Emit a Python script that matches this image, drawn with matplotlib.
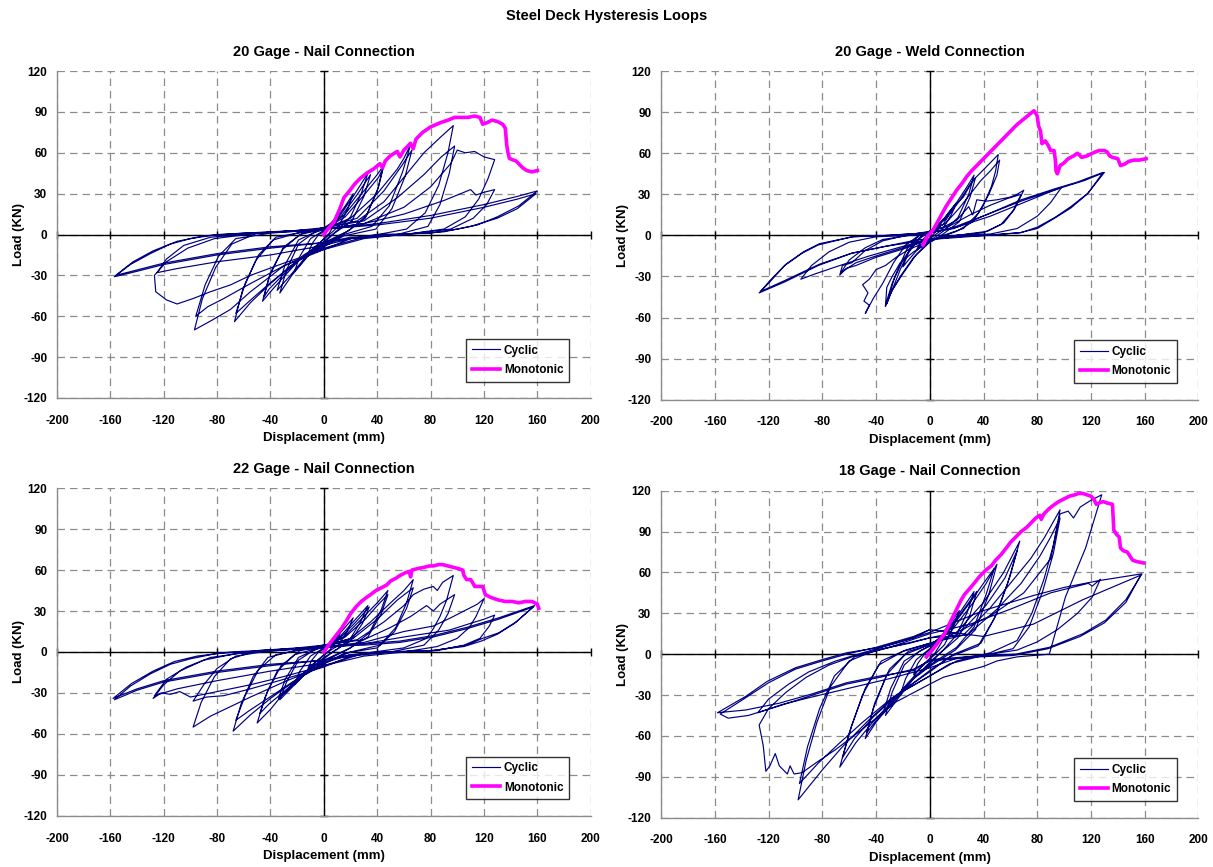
#!/usr/bin/env python3
"""
Steel deck hysteresis loops - four connection types, cyclic vs monotonic
"""

import numpy as np
import matplotlib.pyplot as plt

plt.rcParams['font.family'] = ['Liberation Sans', 'DejaVu Sans']
plt.rcParams['font.weight'] = 'bold'
plt.rcParams['axes.unicode_minus'] = False

# ---- data: (displacement mm, load kN) ----
g20n_cyclic = [
    (0, 0), (5, 8), (12, 16), (9, 9), (4, 1), (0, -3), (-6, -9), (-12, -15), (-9, -7), (-4, 0), (0, 2),
    (8, 10), (16, 21), (22, 30), (18, 19), (11, 6), (3, -1), (-8, -10), (-16, -20), (-22, -27), (-18, -16), (-10, -3), (0, 3),
    (10, 11), (22, 28), (33, 45), (28, 30), (20, 13), (10, 3), (0, -5), (-12, -16), (-24, -30), (-33, -43), (-28, -26), (-19, -7), (-8, 1), (0, 4),
    (12, 12), (24, 28), (35, 44), (30, 28), (21, 10), (8, 1), (0, -6), (-14, -17), (-26, -31), (-35, -41), (-29, -22), (-19, -4), (-6, 2), (0, 5),
    (15, 14), (30, 32), (40, 44), (45, 51), (41, 35), (32, 14), (19, 3), (0, -6), (-15, -15), (-30, -31), (-40, -42), (-46, -49), (-41, -31), (-31, -11), (-18, 0), (0, 4),
    (16, 13), (31, 30), (41, 42), (44, 48), (40, 32), (31, 12), (17, 2), (0, -7), (-16, -16), (-31, -30), (-41, -40), (-45, -46), (-40, -28), (-30, -9), (-16, 1), (0, 4),
    (20, 12), (40, 30), (55, 48), (60, 56), (65, 66), (59, 46), (49, 21), (36, 6), (15, 0), (0, -8), (-20, -19), (-40, -36), (-55, -50), (-67, -64), (-61, -41), (-51, -19), (-38, -4), (-20, 1), (0, 5),
    (25, 12), (45, 32), (58, 50), (66, 62), (61, 43), (51, 19), (39, 4), (15, -1), (0, -9), (-22, -21), (-42, -37), (-56, -49), (-66, -58), (-59, -36), (-49, -15), (-36, -2), (-15, 2), (0, 5),
    (25, 10), (45, 24), (60, 42), (75, 60), (88, 72), (97, 80), (93, 60), (86, 36), (76, 16), (62, 4), (30, -2), (0, -10), (-30, -23), (-55, -42), (-70, -55), (-84, -63), (-97, -70), (-91, -47), (-81, -24), (-69, -7), (-50, 1), (-20, 3), (0, 5),
    (30, 10), (55, 27), (75, 44), (88, 57), (98, 65), (94, 45), (87, 22), (78, 6), (55, 0), (20, -3), (0, -11), (-30, -23), (-55, -36), (-75, -47), (-87, -53), (-96, -60), (-89, -37), (-79, -16), (-66, -3), (-40, 1), (0, 4),
    (30, 8), (60, 20), (80, 35), (95, 52), (100, 62), (106, 60), (113, 61), (120, 57), (128, 55), (123, 41), (116, 26), (106, 13), (90, 4), (60, 0), (30, -3), (0, -11),
    (-30, -21), (-55, -30), (-70, -37), (-85, -42), (-98, -47), (-110, -51), (-118, -48), (-126, -42), (-127, -30), (-118, -20), (-102, -10), (-82, -3), (-50, 1), (0, 4),
    (30, 8), (60, 15), (90, 25), (110, 33), (114, 29), (120, 31), (128, 33), (122, 22), (112, 12), (95, 4), (60, 0), (20, -3), (0, -8), (-40, -15), (-80, -20), (-110, -25), (-125, -28), (-118, -18), (-105, -8), (-85, -2), (-50, 1), (0, 4),
    (40, 8), (80, 14), (120, 22), (145, 28), (160, 32), (146, 21), (130, 13), (115, 7), (100, 4), (80, 1), (40, 0), (0, -6), (-40, -10), (-80, -15), (-120, -22), (-140, -27), (-157, -31),
    (-145, -22), (-130, -14), (-115, -7), (-100, -3), (-80, 0), (-40, 2), (0, 4),
    (40, 7), (80, 12), (120, 20), (145, 26), (159, 30), (145, 19), (130, 12), (110, 6), (90, 2), (60, 0), (20, -2), (0, -6), (-40, -9), (-80, -14), (-120, -21), (-140, -26), (-156, -30),
    (-143, -20), (-128, -12), (-110, -5), (-90, -1), (-60, 1), (0, 3),
]
g20n_mono = [
    (0, 0), (3, 4), (7.5, 9), (12, 19), (15, 27), (20, 33), (23, 37), (27, 41), (32, 45), (37, 48), (42, 52), (44, 49), (46, 54), (50, 58),
    (55, 61), (57, 57), (60, 62), (65, 67), (67, 63), (69, 70), (74, 75), (80, 79), (87, 82), (93, 84), (98, 86), (104, 86), (108, 86),
    (113, 87), (117, 86), (119, 81), (122, 82), (126, 84), (130, 83), (134, 81), (136, 78), (137, 66), (138, 60), (139, 56), (141, 55),
    (144, 54), (146, 52), (149, 49), (152, 47), (156, 46), (160, 47),
]

g20w_cyclic = [
    (0, 0), (5, 6), (10, 12), (7, 6), (2, 0), (0, -2), (-5, -6), (-10, -11), (-7, -5), (-2, 0), (0, 2),
    (8, 9), (15, 18), (20, 24), (16, 15), (9, 4), (2, -1), (-8, -9), (-15, -17), (-20, -23), (-16, -13), (-8, -2), (0, 3),
    (10, 11), (20, 24), (28, 36), (33, 44), (29, 30), (21, 13), (10, 3), (0, -4), (-10, -14), (-20, -28), (-28, -40), (-33, -51), (-28, -35), (-20, -18), (-10, -4), (0, 3),
    (12, 12), (22, 25), (30, 37), (34, 42), (30, 28), (22, 10), (10, 1), (0, -5), (-12, -16), (-22, -30), (-29, -42), (-32, -50), (-26, -30), (-17, -10), (-8, 0), (0, 3),
    (10, 8), (18, 21), (25, 28), (32, 40), (38, 46), (42, 50), (47, 55), (51, 59), (49, 47), (46, 36), (40, 22), (32, 10), (20, 3), (0, -4), (-15, -10), (-25, -16), (-33, -22),
    (-40, -25), (-45, -32), (-50, -36), (-46, -42), (-49, -48), (-45, -51), (-48, -57), (-42, -46), (-35, -35), (-27, -20), (-18, -7), (-8, 0), (0, 3),
    (12, 9), (22, 20), (30, 30), (38, 40), (45, 47), (52, 55), (50, 44), (44, 30), (36, 16), (25, 5), (10, 0), (0, -5), (-12, -12), (-22, -20), (-28, -30), (-32, -38), (-33, -52),
    (-28, -40), (-22, -25), (-15, -10), (-6, 0), (0, 3),
    (10, 6), (20, 11), (29, 21), (32, 15), (35, 26), (42, 25), (50, 26), (60, 28), (65, 30), (70, 33), (63, 19), (55, 9), (43, 3), (20, 0), (0, -3), (-20, -10), (-40, -16),
    (-55, -22), (-62, -24), (-67, -29), (-65, -22), (-58, -20), (-48, -11), (-35, -4), (-18, 0), (0, 3),
    (15, 7), (30, 15), (45, 22), (58, 27), (68, 30), (62, 18), (53, 8), (40, 2), (20, 0), (0, -3), (-20, -9), (-40, -15), (-55, -20), (-66, -27), (-60, -18), (-48, -9), (-35, -3), (-15, 0), (0, 2),
    (20, 6), (45, 14), (70, 24), (85, 30), (98, 35), (90, 24), (80, 14), (65, 5), (45, 1), (20, 0), (0, -3), (-20, -8), (-45, -15), (-70, -23), (-85, -28), (-96, -32), (-88, -22),
    (-75, -12), (-60, -5), (-40, -1), (-15, 0), (0, 2),
    (18, 5), (42, 15), (68, 26), (93, 34), (110, 39), (118, 42), (129, 46), (118, 31), (105, 21), (93, 13), (80, 6), (68, 2), (43, 0), (20, -1), (0, -3), (-8, -3), (-33, -8),
    (-58, -13), (-83, -22), (-108, -34), (-127, -42), (-120, -35), (-108, -22), (-95, -13), (-83, -7), (-58, -1), (-33, 0), (0, 2),
    (18, 6), (42, 15), (68, 25), (92, 33), (115, 40), (130, 46), (117, 30), (105, 20), (92, 12), (80, 5), (67, 2), (42, 0), (0, -3), (-33, -8), (-58, -13), (-82, -21), (-108, -33),
    (-126, -41), (-119, -33), (-107, -21), (-94, -12), (-82, -6), (-57, -1), (-30, 0), (0, 2),
]
g20w_mono = [
    (-5, -7), (-2, -1), (2.5, 4), (7, 12), (12, 21), (16, 27), (20, 33), (24, 38), (27.5, 43), (31, 47), (35, 51), (40, 56), (45, 61), (50, 66),
    (55, 71), (60, 76), (65, 81), (70, 85), (72.5, 87), (75, 89), (77.5, 91), (79, 89), (80, 87), (81, 80), (82.5, 76), (83.5, 67), (86, 69),
    (88, 66), (90, 62), (92.5, 62), (93.5, 55), (94, 47), (95, 45), (97, 51), (100, 53), (103, 56), (107, 58), (110, 60), (113, 57), (117, 58),
    (121, 60), (126, 62), (130, 62), (132, 61), (134, 58), (136, 57), (140, 56), (142, 51), (145, 52), (148, 54), (152, 55), (156, 55), (161, 56),
]

g22n_cyclic = [
    (0, 0), (5, 6), (12, 13), (9, 7), (4, 1), (0, -2), (-6, -7), (-12, -12), (-9, -6), (-4, 0), (0, 2),
    (8, 9), (15, 17), (22, 25), (18, 16), (11, 5), (3, 0), (-8, -9), (-15, -17), (-22, -24), (-18, -14), (-10, -3), (0, 3),
    (10, 9), (22, 22), (33, 34), (28, 23), (20, 10), (10, 2), (0, -4), (-12, -14), (-24, -26), (-33, -35), (-28, -22), (-19, -6), (-8, 1), (0, 4),
    (12, 10), (24, 22), (34, 33), (29, 21), (20, 8), (8, 1), (0, -5), (-14, -15), (-26, -27), (-34, -34), (-29, -20), (-19, -4), (-6, 2), (0, 4),
    (15, 11), (30, 26), (40, 36), (48, 45), (43, 31), (34, 14), (20, 3), (0, -6), (-15, -15), (-30, -30), (-40, -42), (-50, -52), (-44, -33), (-35, -14), (-22, -2), (0, 4),
    (16, 11), (31, 24), (41, 35), (48, 42), (43, 28), (33, 11), (18, 2), (0, -7), (-16, -17), (-31, -30), (-41, -38), (-48, -45), (-42, -28), (-32, -10), (-18, 1), (0, 4),
    (20, 10), (35, 22), (50, 36), (60, 45), (67, 53), (62, 36), (54, 18), (42, 5), (20, 0), (0, -8), (-20, -20), (-40, -34), (-55, -46), (-68, -58), (-62, -38), (-53, -18), (-42, -4), (-22, 1), (0, 5),
    (22, 10), (40, 24), (55, 38), (67, 47), (62, 32), (53, 15), (40, 3), (15, -1), (0, -9), (-22, -21), (-42, -34), (-56, -43), (-66, -50), (-59, -32), (-49, -13), (-36, -2), (-15, 2), (0, 5),
    (25, 9), (45, 22), (60, 34), (67, 42), (75, 46), (82, 48), (85, 45), (89, 51), (97, 56), (92, 38), (87, 26), (82, 17), (77, 10), (60, 3), (30, -1), (0, -10), (-30, -22),
    (-55, -33), (-70, -40), (-85, -47), (-98, -55), (-92, -37), (-82, -18), (-70, -5), (-50, 1), (-20, 3), (0, 5),
    (30, 9), (50, 18), (65, 26), (77, 34), (82, 30), (87, 35), (98, 42), (93, 28), (86, 16), (75, 5), (50, 0), (20, -3), (0, -11), (-30, -20), (-55, -27), (-75, -32), (-88, -33),
    (-98, -36), (-90, -24), (-80, -12), (-66, -3), (-40, 1), (0, 4),
    (30, 7), (60, 15), (82, 19), (95, 25), (107, 31), (115, 35), (120, 39), (114, 26), (109, 18), (100, 10), (85, 4), (60, 0), (30, -3), (0, -10), (-30, -18), (-55, -24),
    (-75, -28), (-90, -31), (-100, -33), (-108, -29), (-115, -31), (-122, -30), (-128, -34), (-120, -24), (-108, -14), (-90, -6), (-65, -1), (-35, 1), (0, 4),
    (30, 6), (60, 11), (94, 16), (110, 21), (120, 24), (128, 27), (124, 19), (117, 10), (105, 5), (85, 1), (50, 0), (20, -2), (0, -8), (-40, -14), (-80, -21), (-110, -27),
    (-127, -32), (-118, -20), (-103, -11), (-85, -4), (-55, 0), (-20, 2), (0, 3),
    (30, 6), (57, 8), (82, 12), (107, 18), (131, 25), (158, 34), (144, 22), (131, 14), (119, 10), (107, 5), (82, 1), (50, 0), (20, -2), (0, -6), (-40, -10), (-80, -15),
    (-120, -22), (-140, -28), (-157, -35), (-145, -25), (-130, -16), (-115, -9), (-100, -5), (-80, -1), (-60, 0), (-30, 2), (0, 4),
    (30, 5), (57, 7), (82, 11), (107, 17), (131, 24), (157, 33), (143, 21), (130, 13), (118, 8), (105, 4), (80, 1), (40, 0), (0, -6), (-40, -9), (-80, -14), (-120, -21),
    (-140, -27), (-158, -34), (-144, -23), (-128, -14), (-112, -7), (-95, -3), (-70, 0), (-30, 2), (0, 4),
]
g22n_mono = [
    (0, 0), (5, 7), (9, 12), (13, 17), (17, 23), (20, 28), (24, 33), (28, 37), (32, 40), (35, 42), (39, 45), (43, 47), (47, 49), (50, 52),
    (54, 54), (57, 56), (61, 58), (64, 59), (65, 55), (66, 60), (70, 61), (75, 62), (79, 63), (82, 63), (86, 64), (89, 64), (93, 63),
    (97, 62), (101, 61), (104, 60), (105, 56), (107, 53), (110, 53), (112, 50), (113, 48), (116, 48), (119, 48), (121, 42), (123, 41),
    (125, 40), (128, 39), (131, 38), (136, 37), (141, 37), (146, 36), (151, 37), (156, 37), (158, 36), (160, 35), (161, 32),
]

g18n_cyclic = [
    (0, 0), (5, 8), (12, 16), (9, 9), (4, 1), (0, -3), (-6, -9), (-12, -15), (-9, -7), (-4, 0), (0, 3),
    (8, 12), (16, 24), (22, 32), (18, 21), (11, 7), (3, -1), (-8, -11), (-16, -22), (-22, -30), (-18, -18), (-10, -4), (0, 4),
    (10, 14), (22, 30), (33, 46), (28, 31), (20, 14), (10, 3), (0, -6), (-12, -18), (-24, -33), (-33, -45), (-28, -28), (-19, -8), (-8, 2), (0, 6),
    (12, 15), (24, 31), (35, 46), (30, 29), (21, 12), (8, 1), (0, -7), (-14, -19), (-26, -34), (-35, -44), (-29, -25), (-19, -5), (-6, 3), (0, 6),
    (15, 18), (30, 38), (40, 52), (48, 63), (42, 44), (33, 20), (20, 5), (0, -8), (-15, -20), (-30, -38), (-40, -50), (-48, -62), (-42, -40), (-32, -15), (-18, 0), (0, 7),
    (16, 17), (31, 36), (42, 52), (50, 66), (44, 44), (34, 18), (19, 3), (0, -9), (-16, -21), (-31, -38), (-41, -50), (-47, -58), (-41, -36), (-30, -11), (-16, 2), (0, 7),
    (20, 16), (40, 38), (55, 60), (67, 83), (60, 58), (50, 30), (38, 8), (18, 0), (0, -12), (-20, -27), (-40, -47), (-55, -65), (-67, -83), (-60, -58), (-50, -30), (-38, -8), (-20, 2), (0, 8),
    (22, 15), (42, 36), (56, 56), (65, 76), (58, 52), (48, 26), (36, 6), (15, -2), (0, -13), (-22, -28), (-42, -46), (-56, -62), (-65, -76), (-58, -52), (-48, -25), (-36, -5), (-18, 3), (0, 8),
    (25, 14), (45, 34), (60, 52), (75, 70), (85, 85), (97, 106), (92, 80), (85, 55), (76, 30), (65, 10), (45, 1), (20, -5), (0, -16), (-25, -30), (-45, -48), (-65, -68),
    (-80, -85), (-98, -107), (-92, -78), (-84, -50), (-74, -24), (-60, -5), (-40, 3), (-15, 8), (0, 12),
    (28, 14), (50, 33), (68, 52), (82, 72), (90, 86), (97, 100), (92, 74), (84, 46), (74, 20), (62, 4), (40, -1), (15, -7), (0, -16), (-28, -32), (-50, -50), (-68, -66),
    (-83, -80), (-97, -95), (-91, -68), (-82, -40), (-71, -16), (-56, -2), (-30, 5), (0, 12),
    (20, 16), (45, 28), (70, 45), (90, 70), (97, 103), (103, 105), (107, 100), (112, 108), (120, 113), (128, 117), (116, 78), (101, 42), (89, 0), (65, -2), (50, -5),
    (40, -9), (25, -13), (10, -17), (0, -22), (-25, -35), (-50, -55), (-70, -70), (-85, -80), (-95, -87), (-101, -88), (-104, -82), (-106, -88), (-112, -82), (-115, -73),
    (-119, -82), (-122, -86), (-124, -67), (-127, -52), (-120, -40), (-107, -28), (-92, -17), (-75, -8), (-55, -1), (-30, 5), (0, 15),
    (30, 22), (60, 33), (90, 45), (110, 50), (118, 52), (121, 50), (127, 55), (121, 42), (110, 30), (95, 18), (80, 9), (65, 3), (45, 0), (20, -3), (0, -10), (-30, -18),
    (-60, -25), (-90, -32), (-110, -37), (-128, -43), (-120, -33), (-105, -22), (-90, -13), (-70, -5), (-50, 1), (-25, 8), (0, 16),
    (40, 32), (77, 43), (100, 49), (126, 54), (158, 59), (146, 40), (131, 25), (114, 15), (89, 5), (64, 0), (40, -1), (0, -4), (-12, -12), (-37, -16), (-62, -21),
    (-87, -29), (-112, -36), (-137, -41), (-158, -43), (-137, -31), (-121, -20), (-100, -10), (-80, -4), (-62, 1), (-37, 5), (-12, 12), (0, 18),
    (40, 13), (77, 22), (114, 40), (157, 58), (146, 38), (130, 23), (112, 13), (88, 4), (62, -1), (36, -2), (0, -5), (-12, -11), (-37, -17), (-62, -22), (-87, -30),
    (-112, -38), (-135, -45), (-150, -47), (-156, -44), (-137, -32), (-120, -21), (-100, -11), (-80, -5), (-62, 0), (-40, 5), (-12, 13), (0, 18),
]
g18n_mono = [
    (-2.5, -2), (1, 2), (5, 7), (8, 11), (11, 15), (14, 21), (17, 27), (20, 33), (23.5, 40), (26, 44), (29.6, 48), (33, 52), (37, 57), (40, 60),
    (42, 62), (46, 65), (49, 69), (53, 73), (57, 78), (60, 82), (64, 86), (68, 90), (72, 93), (76, 97), (79, 100), (82, 102), (83, 99),
    (85, 103), (89, 107), (93, 110), (96, 112), (100, 114), (104, 116), (108, 117), (111, 118), (114, 118), (117, 117), (120, 116),
    (122, 114), (124, 110), (126, 111), (129, 112), (132, 111), (136, 110), (137, 91), (139, 88), (141, 86), (142, 78), (144, 76),
    (147, 75), (149, 72), (151, 69), (154, 68), (159, 67),
]

titles = ['20 Gage - Nail Connection', '20 Gage - Weld Connection',
          '22 Gage - Nail Connection', '18 Gage - Nail Connection']
x_ticks = [-200, -160, -120, -80, -40, 0, 40, 80, 120, 160, 200]
y_ticks = [-120, -90, -60, -30, 0, 30, 60, 90, 120]

fig = plt.figure(figsize=(12.13, 8.67), dpi=100)
fig.text(0.5, 0.981, 'Steel Deck Hysteresis Loops', ha='center', va='center',
         fontsize=10.5, fontweight='bold')

# axes rectangles in figure fractions (left, bottom, width, height)
boxes = [[0.047, 0.541, 0.440, 0.377], [0.545, 0.539, 0.443, 0.379],
         [0.047, 0.059, 0.440, 0.378], [0.545, 0.057, 0.443, 0.377]]
cyclic_sets = [g20n_cyclic, g20w_cyclic, g22n_cyclic, g18n_cyclic]
mono_sets = [g20n_mono, g20w_mono, g22n_mono, g18n_mono]

for title, cyc, mono, box in zip(titles, cyclic_sets, mono_sets, boxes):
    ax = fig.add_axes(box)
    cx, cy = np.array(cyc, dtype=float).T
    mx, my = np.array(mono, dtype=float).T

    ax.grid(True, color='#8c8c8c', linestyle=(0, (6, 4)), linewidth=0.9)
    ax.set_axisbelow(True)
    ax.axhline(0, color='black', lw=1.0, zorder=1.5)
    ax.axvline(0, color='black', lw=1.0, zorder=1.5)
    # small tick marks along the zero lines (Excel style)
    ax.plot(np.zeros(len(y_ticks)), y_ticks, ls='none', marker='_', ms=6,
            mew=1.0, color='black', zorder=1.5, clip_on=False)
    ax.plot(x_ticks, np.zeros(len(x_ticks)), ls='none', marker='|', ms=6,
            mew=1.0, color='black', zorder=1.5, clip_on=False)

    ax.plot(cx, cy, color='#000080', lw=0.85, label='Cyclic', zorder=3)
    ax.plot(mx, my, color='#ff00ff', lw=2.6, label='Monotonic', zorder=4,
            solid_joinstyle='round')

    ax.set_xlim(-200, 200)
    ax.set_ylim(-120, 120)
    ax.set_xticks(x_ticks)
    ax.set_yticks(y_ticks)
    ax.tick_params(length=0, labelsize=8.5)
    ax.tick_params(axis='x', pad=12)
    ax.tick_params(axis='y', pad=7)
    for lab in ax.get_xticklabels() + ax.get_yticklabels():
        lab.set_fontweight('bold')
    for side in ['top', 'right']:
        ax.spines[side].set_visible(False)
    for side in ['left', 'bottom']:
        ax.spines[side].set_color('#8c8c8c')
        ax.spines[side].set_linewidth(1.0)

    ax.set_title(title, fontsize=10.5, fontweight='bold', pad=11)
    ax.set_xlabel('Displacement (mm)', fontsize=9.5, fontweight='bold', labelpad=4)
    ax.set_ylabel('Load (KN)', fontsize=9.5, fontweight='bold', labelpad=-1)

    leg = ax.legend(loc='lower right', bbox_to_anchor=(0.96, 0.05), fontsize=8.5,
                    frameon=True, fancybox=False, edgecolor='black',
                    handlelength=2.4, handletextpad=0.3, borderpad=0.5,
                    labelspacing=0.6, borderaxespad=0)
    leg.get_frame().set_linewidth(1.0)
    for txt in leg.get_texts():
        txt.set_fontweight('bold')

plt.savefig('out.png', dpi=100, facecolor='white')
plt.close()
